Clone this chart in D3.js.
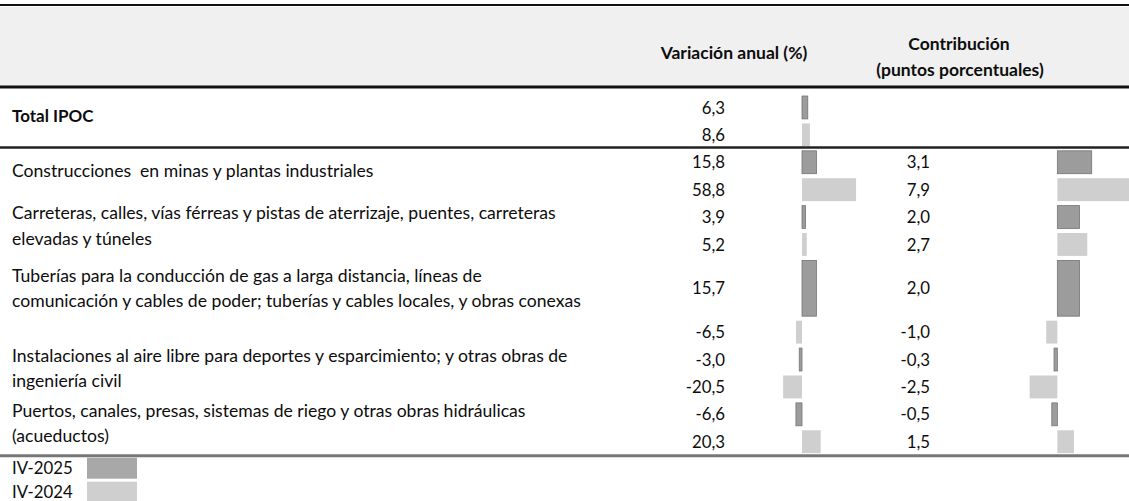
<!DOCTYPE html>
<html>
<head>
<meta charset="utf-8">
<script src="https://cdn.jsdelivr.net/npm/d3@7"></script>
<style>
  body { margin: 0; background: #fff; }
  svg text { font-family: Lato, "Open Sans", sans-serif; fill: #0d0d0d; white-space: pre; }
</style>
</head>
<body>
<svg id="chart" width="1129" height="501"></svg>
<script>
var labelLines = [
    ["Total IPOC"],
    ["Construcciones  en minas y plantas industriales"],
    ["Carreteras, calles, vías férreas y pistas de aterrizaje, puentes, carreteras", "elevadas y túneles"],
    ["Tuberías para la conducción de gas a larga distancia, líneas de", "comunicación y cables de poder; tuberías y cables locales, y obras conexas"],
    ["Instalaciones al aire libre para deportes y esparcimiento; y otras obras de", "ingeniería civil"],
    ["Puertos, canales, presas, sistemas de riego y otras obras hidráulicas", "(acueductos)"]
];
var variacion2025 = [6.3, 15.8, 3.9, 15.7, -3.0, -6.6];
var variacion2024 = [8.6, 58.8, 5.2, -6.5, -20.5, 20.3];
var contrib2025 = [null, 3.1, 2.0, 2.0, -0.3, -0.5];
var contrib2024 = [null, 7.9, 2.7, -1.0, -2.5, 1.5];
var seriesNames = ["IV-2025", "IV-2024"];

// layout (row heights in "row units"; the pipeline row is taller)
var span2025 = [1, 1, 1, 2.2, 1, 1];
var ROW_H = 27.4, TOP_Y = 94;
var FS = "16.8px", LABEL_FS = "17.6px";
var DARK = "#9c9c9c", DARK_EDGE = "#747474", LIGHT = "#cfcfcf";

var svg = d3.select("#chart");
var loc = d3.formatLocale({decimal: ",", thousands: ".", grouping: [3], currency: ["", ""], minus: "-"});
var fmt = loc.format(".1f");

// build bar slots
var rows = [];
var cursor = 0;
labelLines.forEach(function(lines, i) {
    rows.push({cat: i, serie: 0, start: cursor, span: span2025[i], v: variacion2025[i], c: contrib2025[i]});
    cursor += span2025[i];
    rows.push({cat: i, serie: 1, start: cursor, span: 1, v: variacion2024[i], c: contrib2024[i]});
    cursor += 1;
});

var y = d3.scaleLinear().domain([0, cursor]).range([TOP_Y, TOP_Y + cursor * ROW_H]);
// zero points sit where the table has them
var xVar = d3.scaleLinear().domain([-25, 60]).range([802 - 25 * 0.92, 802 + 60 * 0.92]);
var xCon = d3.scaleLinear().domain([-3, 8]).range([1058 - 3 * 11.3, 1058 + 8 * 11]);

// header band
svg.append("rect").attr("x", 0).attr("y", 7).attr("width", 1129).attr("height", 79).style("fill", "#f0f0f0");

svg.append("text").attr("x", 734).attr("y", 53).attr("dy", "0.35em")
    .attr("text-anchor", "middle").style("font-weight", "bold").style("font-size", "17.5px")
    .text("Variación anual (%)");
svg.append("text").attr("x", 959).attr("y", 44).attr("dy", "0.35em")
    .attr("text-anchor", "middle").style("font-weight", "bold").style("font-size", "17.5px")
    .text("Contribución");
svg.append("text").attr("x", 960).attr("y", 70).attr("dy", "0.35em")
    .attr("text-anchor", "middle").style("font-weight", "bold").style("font-size", "17.5px")
    .text("(puntos porcentuales)");

// row labels
labelLines.forEach(function(lines, i) {
    var first = rows[i * 2], second = rows[i * 2 + 1];
    var mid;
    if (first.span > 1) mid = (y(first.start) + y(first.start + first.span)) / 2;
    else mid = (y(first.start) + y(second.start + second.span)) / 2 - 5;
    var lh = 25.5;
    lines.forEach(function(l, k) {
        svg.append("text")
            .attr("x", 12)
            .attr("y", mid - (lines.length - 1) * lh / 2 + k * lh)
            .attr("dy", "0.35em")
            .style("font-size", i == 0 ? "17px" : LABEL_FS)
            .style("font-weight", i == 0 ? "bold" : "normal")
            .text(l);
    });
});

function barColor(d) { return d.serie == 0 ? DARK : LIGHT; }

// variacion bars
svg.append("g").selectAll("rect").data(rows).join("rect")
    .attr("x", function(d) { return xVar(Math.min(0, d.v)); })
    .attr("width", function(d) { return Math.abs(xVar(d.v) - xVar(0)); })
    .attr("y", function(d) { return y(d.start) + 2; })
    .attr("height", function(d) { return y(d.start + d.span) - y(d.start) - 4.5; })
    .style("fill", barColor)
    .style("stroke", function(d) { return d.serie == 0 ? DARK_EDGE : "none"; })
    .style("stroke-width", 0.8);

svg.append("g").selectAll("text").data(rows).join("text")
    .attr("x", 725)
    .attr("y", function(d) { return (y(d.start) + y(d.start + d.span)) / 2; })
    .attr("dy", "0.35em")
    .attr("text-anchor", "end")
    .style("font-size", FS)
    .text(function(d) { return fmt(d.v); });

// contribucion bars
var conRows = rows.filter(function(d) { return d.c != null; });
svg.append("g").selectAll("rect").data(conRows).join("rect")
    .attr("x", function(d) { return xCon(Math.min(0, d.c)); })
    .attr("width", function(d) { return Math.abs(xCon(d.c) - xCon(0)); })
    .attr("y", function(d) { return y(d.start) + 2; })
    .attr("height", function(d) { return y(d.start + d.span) - y(d.start) - 4.5; })
    .style("fill", barColor)
    .style("stroke", function(d) { return d.serie == 0 ? DARK_EDGE : "none"; })
    .style("stroke-width", 0.8);

svg.append("g").selectAll("text").data(conRows).join("text")
    .attr("x", 930)
    .attr("y", function(d) { return (y(d.start) + y(d.start + d.span)) / 2; })
    .attr("dy", "0.35em")
    .attr("text-anchor", "end")
    .style("font-size", FS)
    .text(function(d) { return fmt(d.c); });

// rules
svg.append("line").attr("x1", 0).attr("x2", 1129).attr("y1", 5).attr("y2", 5)
    .style("stroke", "#111").style("stroke-width", 2);
svg.append("line").attr("x1", 0).attr("x2", 1129).attr("y1", 87).attr("y2", 87)
    .style("stroke", "#111").style("stroke-width", 3);
svg.append("line").attr("x1", 0).attr("x2", 1129).attr("y1", 147.5).attr("y2", 147.5)
    .style("stroke", "#222").style("stroke-width", 2.5);
svg.append("line").attr("x1", 0).attr("x2", 1129).attr("y1", y(cursor)).attr("y2", y(cursor))
    .style("stroke", "#777").style("stroke-width", 3);

// legend
var leg = svg.append("g");
seriesNames.forEach(function(name, i) {
    var ly = y(cursor) + 2 + i * 24;
    leg.append("rect").attr("x", 87).attr("y", ly).attr("width", 50).attr("height", 21)
        .style("fill", i == 0 ? "#a8a8a8" : LIGHT);
    leg.append("text").attr("x", 12).attr("y", ly + 10.5).attr("dy", "0.35em")
        .style("font-size", FS).text(name);
});
</script>
</body>
</html>
